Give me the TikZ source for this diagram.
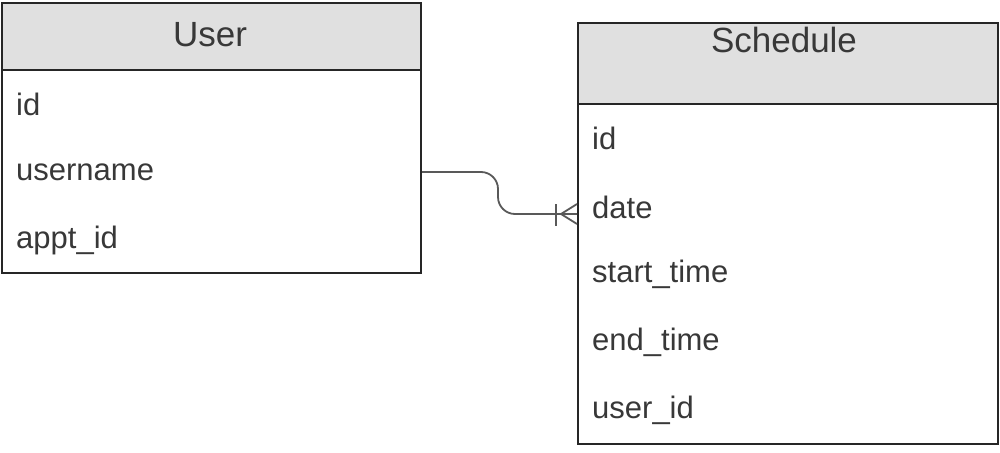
\documentclass[tikz,border=0pt]{standalone}
\usepackage{fontspec}
\setmainfont{Liberation Sans}
\begin{document}
\begin{tikzpicture}[x=1pt,y=-1pt,
  hdr/.style={draw=black!85,line width=2pt,fill=black!12,anchor=north west,inner sep=0pt},
  bodybox/.style={draw=black!85,line width=2pt,fill=white,anchor=north west,inner sep=0pt},
  title/.style={text=black!78,font=\fontsize{35}{40}\selectfont,inner sep=0pt},
  field/.style={text=black!78,font=\fontsize{31}{36}\selectfont,anchor=west,inner sep=0pt},
  conn/.style={draw=black!65,line width=1.8pt},
]
\useasboundingbox (0,0) rectangle (1000,452);
% User table
\node[bodybox,minimum width=419pt,minimum height=203pt] (userb) at (1,69) {};
\node[hdr,minimum width=419pt,minimum height=67pt] (userh) at (1,2) {};
\node[title] (usert) at (210,35) {User};
\node[field] (u1) at (16,104) {id};
\node[field] (u2) at (16,172) {username};
\node[field] (u3) at (16,240) {appt\_id};
% Schedule table
\node[bodybox,minimum width=420pt,minimum height=340pt] (schb) at (577,103) {};
\node[hdr,minimum width=420pt,minimum height=81pt] (schh) at (577,22) {};
\node[title] (scht) at (784,40) {Schedule};
\node[field] (s1) at (592,138) {id};
\node[field] (s2) at (592,207) {date};
\node[field] (s3) at (592,274) {start\_time};
\node[field] (s4) at (592,342) {end\_time};
\node[field] (s5) at (592,410) {user\_id};
% connector
\coordinate (c1) at (userb.east |- 0,172);
\coordinate (cm) at (498,214);
\coordinate (c2) at (schb.west |- 0,214);
\coordinate (apex) at (561,214);
\draw[conn,rounded corners=17pt] (c1) -| (cm) -- (c2);
\draw[conn] (apex) -- (577,204) (apex) -- (577,224);
\draw[conn] (556,204) -- (556,226);
\end{tikzpicture}
\end{document}
